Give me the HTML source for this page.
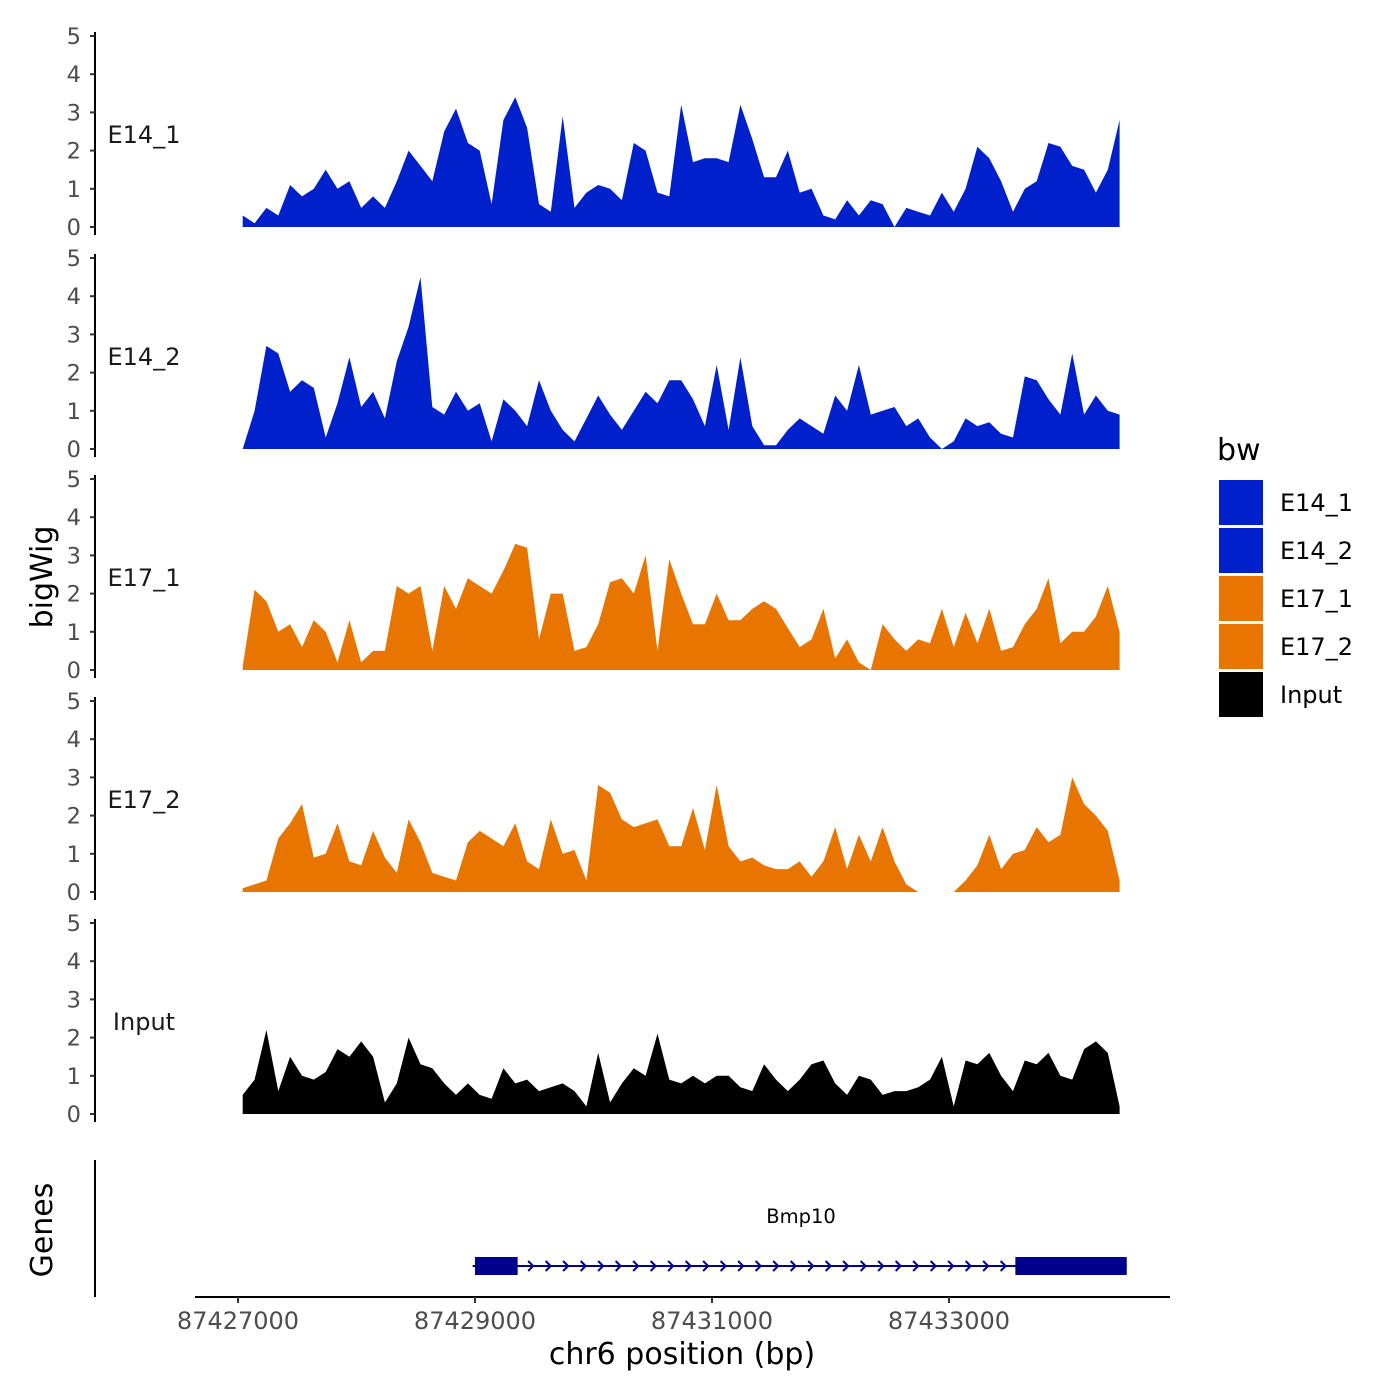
<!DOCTYPE html>
<html><head><meta charset="utf-8"><style>
body{margin:0;background:#fff;}
svg{display:block;font-family:"DejaVu Sans","Liberation Sans",sans-serif;}
</style></head><body>
<svg id="chart" width="1400" height="1400" viewBox="0 0 1400 1400"></svg>
<script>
const startBp = 87427040, stepBp = 100;
const trackNames = ["E14_1","E14_2","E17_1","E17_2","Input"];
const trackColors = ["#0020CC","#0020CC","#E87500","#E87500","#000000"];
const e14_1 = [0.3,0.1,0.5,0.3,1.1,0.8,1.0,1.5,1.0,1.2,0.5,0.8,0.5,1.2,2.0,1.6,1.2,2.5,3.1,2.2,2.0,0.6,2.8,3.4,2.6,0.6,0.4,2.9,0.5,0.9,1.1,1.0,0.7,2.2,2.0,0.9,0.8,3.2,1.7,1.8,1.8,1.7,3.2,2.3,1.3,1.3,2.0,0.9,1.0,0.3,0.2,0.7,0.3,0.7,0.6,0,0.5,0.4,0.3,0.9,0.4,1.0,2.1,1.8,1.2,0.4,1.0,1.2,2.2,2.1,1.6,1.5,0.9,1.5,2.8];
const e14_2 = [0,1.0,2.7,2.5,1.5,1.8,1.6,0.3,1.2,2.4,1.1,1.5,0.8,2.3,3.2,4.5,1.1,0.9,1.5,1.0,1.2,0.2,1.3,1.0,0.6,1.8,1.0,0.5,0.2,0.8,1.4,0.9,0.5,1.0,1.5,1.2,1.8,1.8,1.3,0.6,2.2,0.5,2.4,0.6,0.1,0.1,0.5,0.8,0.6,0.4,1.4,1.0,2.2,0.9,1.0,1.1,0.6,0.8,0.3,0,0.2,0.8,0.6,0.7,0.4,0.3,1.9,1.8,1.3,0.9,2.5,0.9,1.4,1.0,0.9];
const e17_1 = [0.1,2.1,1.8,1.0,1.2,0.6,1.3,1.0,0.2,1.3,0.2,0.5,0.5,2.2,2.0,2.2,0.5,2.2,1.6,2.4,2.2,2.0,2.6,3.3,3.2,0.8,2.0,2.0,0.5,0.6,1.2,2.3,2.4,2.0,3.0,0.5,2.9,2.0,1.2,1.2,2.0,1.3,1.3,1.6,1.8,1.6,1.1,0.6,0.8,1.6,0.3,0.8,0.2,0,1.2,0.8,0.5,0.8,0.7,1.6,0.6,1.5,0.7,1.6,0.5,0.6,1.2,1.6,2.4,0.7,1.0,1.0,1.4,2.2,1.0];
const e17_2 = [0.1,0.2,0.3,1.4,1.8,2.3,0.9,1.0,1.8,0.8,0.7,1.6,0.9,0.5,1.9,1.3,0.5,0.4,0.3,1.3,1.6,1.4,1.2,1.8,0.8,0.6,1.9,1.0,1.1,0.3,2.8,2.6,1.9,1.7,1.8,1.9,1.2,1.2,2.2,1.1,2.8,1.2,0.8,0.9,0.7,0.6,0.6,0.8,0.4,0.8,1.7,0.6,1.5,0.8,1.7,0.8,0.2,0,0,0,0,0.3,0.7,1.5,0.6,1.0,1.1,1.7,1.3,1.5,3.0,2.3,2.0,1.6,0.3];
const input = [0.5,0.9,2.2,0.6,1.5,1.0,0.9,1.1,1.7,1.5,1.9,1.5,0.3,0.8,2.0,1.3,1.2,0.8,0.5,0.8,0.5,0.4,1.2,0.8,0.9,0.6,0.7,0.8,0.6,0.2,1.6,0.3,0.8,1.2,1.0,2.1,0.9,0.8,1.0,0.8,1.0,1.0,0.7,0.6,1.3,0.9,0.6,0.9,1.3,1.4,0.8,0.5,1.0,0.9,0.5,0.6,0.6,0.7,0.9,1.5,0.2,1.4,1.3,1.6,1.0,0.6,1.4,1.3,1.6,1.0,0.9,1.7,1.9,1.6,0.2];
const xTicks = [87427000,87429000,87431000,87433000];
const yTicks = [0,1,2,3,4,5];
const geneStart = 87428980, geneEnd = 87434500;
const exons = [[87429000,87429360],[87433560,87434500]];

const NS="http://www.w3.org/2000/svg";
const svg=document.getElementById('chart');
function mk(tag,attrs,parent){const e=document.createElementNS(NS,tag);for(const k in attrs)e.setAttribute(k,attrs[k]);(parent||svg).appendChild(e);return e;}
function xs(bp){return 238+(bp-87427000)*0.1185;}
const panelY0=[227,449,670,892,1114];
const unit=38.2;
const series=[e14_1,e14_2,e17_1,e17_2,input];
series.forEach((vals,p)=>{
  const y0=panelY0[p];
  const ys=v=>y0-v*unit;
  const g=mk('g',{});
  
  
  let d='M'+xs(startBp).toFixed(1)+','+y0;
  vals.forEach((v,i)=>{d+=' L'+xs(startBp+i*stepBp).toFixed(1)+','+ys(v).toFixed(1);});
  d+=' L'+xs(startBp+(vals.length-1)*stepBp).toFixed(1)+','+y0+' Z';
  const a=mk('path',{d:d,fill:trackColors[p]},g);
  
  
  const ax=mk('line',{x1:95,x2:95,y1:ys(5)-4,y2:y0+8,stroke:'#000','stroke-width':2},g);
  
  
  yTicks.forEach(t=>{
    mk('line',{x1:90,x2:95,y1:ys(t),y2:ys(t),stroke:'#333','stroke-width':2},g);
    const tx=mk('text',{x:81,y:ys(t)+8,'text-anchor':'end','font-size':22.5,fill:'#4d4d4d'},g);
    tx.textContent=t;
    
    
  });
  const lb=mk('text',{x:144,y:y0-84,'text-anchor':'middle','font-size':24,fill:'#1a1a1a'},g);
  lb.textContent=trackNames[p];
  
  
});
const yt=mk('text',{x:0,y:0,transform:'translate(52,577) rotate(-90)','text-anchor':'middle','font-size':30,fill:'#000'});
yt.textContent='bigWig';


const gt=mk('text',{x:0,y:0,transform:'translate(52,1230) rotate(-90)','text-anchor':'middle','font-size':30,fill:'#000'});
gt.textContent='Genes';


const gl=mk('line',{x1:95,x2:95,y1:1160,y2:1297,stroke:'#000','stroke-width':2});


const xl=mk('line',{x1:195,x2:1170,y1:1297,y2:1297,stroke:'#000','stroke-width':2});


xTicks.forEach(t=>{
  mk('line',{x1:xs(t),x2:xs(t),y1:1297,y2:1303,stroke:'#333','stroke-width':2});
  const tx=mk('text',{x:xs(t),y:1329,'text-anchor':'middle','font-size':24,fill:'#4d4d4d'});
  tx.textContent=t;
  
  
});
const xt=mk('text',{x:682,y:1364,'text-anchor':'middle','font-size':30,fill:'#000'});
xt.textContent='chr6 position (bp)';


const gg=mk('g',{});


mk('line',{x1:xs(geneStart),x2:xs(geneEnd),y1:1266,y2:1266,stroke:'#00008B','stroke-width':2},gg);
for(let x=xs(geneStart)+6;x<xs(geneEnd)-6;x+=17.5){
  mk('path',{d:`M${x-3},${1261} L${x+2},${1266} L${x-3},${1271}`,fill:'none',stroke:'#00008B','stroke-width':2},gg);
}
exons.forEach(e=>{
  const r=mk('rect',{x:xs(e[0]),y:1257,width:xs(e[1])-xs(e[0]),height:18,fill:'#00008B'},gg);
  
  
});
const gn=mk('text',{x:801,y:1223,'text-anchor':'middle','font-size':19.5,fill:'#000'},gg);
gn.textContent='Bmp10';


const lg=mk('g',{});


const lt=mk('text',{x:1217,y:460,'font-size':30,fill:'#000'},lg);
lt.textContent='bw';
trackNames.forEach((n,i)=>{
  const y=480+i*48;
  const r=mk('rect',{x:1219,y:y,width:44,height:45,fill:trackColors[i]},lg);
  
  
  const t=mk('text',{x:1280,y:y+31,'font-size':24,fill:'#000'},lg);
  t.textContent=n;
  
  
});
</script>
</body></html>
